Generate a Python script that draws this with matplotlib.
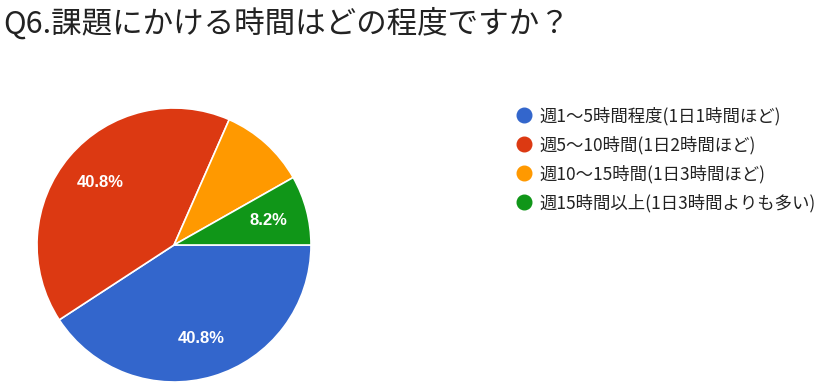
import matplotlib.pyplot as plt
from matplotlib.lines import Line2D

plt.rcParams['font.family'] = ['Noto Sans CJK JP', 'DejaVu Sans']

title = 'Q6.課題にかける時間はどの程度ですか？'
labels = ['週1～5時間程度(1日1時間ほど)', '週5～10時間(1日2時間ほど)',
          '週10～15時間(1日3時間ほど)', '週15時間以上(1日3時間よりも多い)']
values = [40.8, 40.8, 10.2, 8.2]
show_pct = [True, True, False, True]
colors = ['#3366CC', '#DC3912', '#FF9900', '#109618']

fig = plt.figure(figsize=(8.4, 3.89), dpi=100)
ax = fig.add_axes([37 / 840, 7 / 389, 274 / 840, 274 / 389])

pct_iter = iter(show_pct)


def fmt(p):
    return f'{p:.1f}%' if next(pct_iter) else ''


wedges, texts, autotexts = ax.pie(
    values, colors=colors, startangle=0, counterclock=False,
    autopct=fmt, pctdistance=0.71, radius=1,
    wedgeprops=dict(edgecolor='white', linewidth=1.2),
    textprops=dict(color='white', fontsize=12, fontweight='bold',
                   family=['Liberation Sans', 'DejaVu Sans']))
ax.set_xlim(-1, 1)
ax.set_ylim(-1, 1)
ax.set_aspect('equal')

fig.text(3 / 840, 1 - 23 / 389, title, fontsize=22, va='center', ha='left', color='#222222')

handles = [Line2D([], [], marker='o', linestyle='', markersize=10.5,
                  markerfacecolor=c, markeredgecolor=c) for c in colors]
fig.legend(handles, labels, loc='upper left', bbox_to_anchor=(507 / 840, 1 - 98 / 389),
           frameon=False, fontsize=12.5, handletextpad=0.35, labelspacing=0.6,
           handlelength=1.0, borderpad=0, labelcolor='#222222')

fig.savefig('out.png', dpi=100, facecolor='white')
